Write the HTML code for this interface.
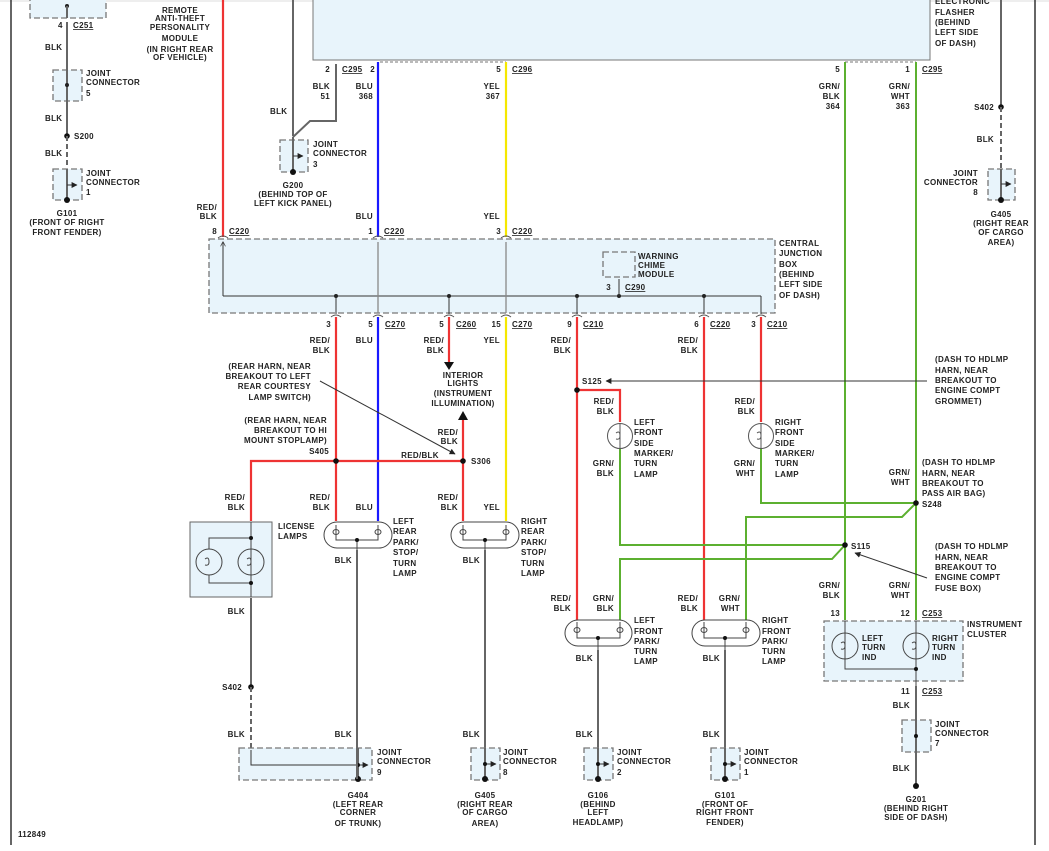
<!DOCTYPE html>
<html><head><meta charset="utf-8"><style>
html,body{margin:0;padding:0;background:#fff;}
svg{display:block;}
text{font-family:"Liberation Sans",sans-serif;font-size:8px;font-weight:bold;fill:#222;letter-spacing:0.3px;}
.m{text-anchor:middle}.e{text-anchor:end}
.u{text-decoration:underline}
.box{fill:#e8f4fb;stroke:#777;stroke-width:1.3;stroke-dasharray:6,3}
.g{stroke:#666;stroke-width:2;fill:none}
.k{stroke:#333;stroke-width:1;fill:none}
.c{stroke:#555;stroke-width:1;fill:none}
</style></head><body>
<svg width="1049" height="851" viewBox="0 0 1049 851" xmlns="http://www.w3.org/2000/svg">
<defs>
<marker id="ar" viewBox="0 0 10 10" refX="9" refY="5" markerWidth="6" markerHeight="6" orient="auto"><path d="M0,0 L10,5 L0,10z" fill="#222"/></marker>
<marker id="av" viewBox="0 0 10 10" refX="9" refY="5" markerWidth="5" markerHeight="5" orient="auto"><path d="M0,0 L10,5 L0,10" fill="none" stroke="#444" stroke-width="1.5"/></marker>
</defs>
<rect width="1049" height="851" fill="#fff"/>
<line x1="0" y1="1" x2="1049" y2="1" stroke="#ddd"/>
<line x1="11" y1="0" x2="11" y2="845" stroke="#333" stroke-width="1.5"/>
<line x1="1035" y1="0" x2="1035" y2="845" stroke="#333" stroke-width="1.5"/>

<rect x="313" y="-2" width="617" height="62" fill="#e8f4fb" stroke="#777"/>
<path d="M380,62 L506,62 M845,62 L916,62" stroke="#777" stroke-dasharray="3,2"/>
<text x="935" y="4">ELECTRONIC</text><text x="935" y="15">FLASHER</text><text x="935" y="25">(BEHIND</text><text x="935" y="35">LEFT SIDE</text><text x="935" y="46">OF DASH)</text>

<rect class="box" x="30" y="-2" width="76" height="20"/>
<circle cx="67" cy="6" r="2" fill="#222"/>
<line class="g" x1="67" y1="6" x2="67" y2="18"/>
<text x="58" y="28">4</text><text x="73" y="28" class="u">C251</text>
<rect class="box" x="53" y="70" width="29" height="31"/>
<line class="g" x1="67" y1="22" x2="67" y2="104"/>
<text x="45" y="50">BLK</text>
<circle cx="67" cy="85" r="2" fill="#222"/>
<text x="86" y="76">JOINT</text><text x="86" y="85">CONNECTOR</text><text x="86" y="96">5</text>
<text x="45" y="121">BLK</text>
<line class="g" x1="67" y1="104" x2="67" y2="136"/>
<circle cx="67" cy="136" r="2.8" fill="#111"/><text x="74" y="139">S200</text>
<line class="g" x1="67" y1="136" x2="67" y2="166" stroke-dasharray="5,3"/>
<text x="45" y="156">BLK</text>
<rect class="box" x="53" y="169" width="29" height="31"/>
<line class="g" x1="67" y1="169" x2="67" y2="200"/><line class="k" x1="67" y1="185" x2="77" y2="185" marker-end="url(#ar)"/>
<circle cx="67" cy="200" r="3" fill="#111"/>
<text x="86" y="176">JOINT</text><text x="86" y="185">CONNECTOR</text><text x="86" y="195">1</text>
<text x="67" y="216" class="m">G101</text><text x="67" y="225" class="m">(FRONT OF RIGHT</text><text x="67" y="235" class="m">FRONT FENDER)</text>

<text x="180" y="13" class="m">REMOTE</text><text x="180" y="21" class="m">ANTI-THEFT</text><text x="180" y="30" class="m">PERSONALITY</text><text x="180" y="41" class="m">MODULE</text><text x="180" y="52" class="m">(IN RIGHT REAR</text><text x="180" y="60" class="m">OF VEHICLE)</text>

<line x1="223" y1="0" x2="223" y2="237" stroke="#e33" stroke-width="2.2"/>
<text x="217" y="210" class="e">RED/</text><text x="217" y="219" class="e">BLK</text>
<text x="217" y="234" class="e">8</text><text x="229" y="234" class="u">C220</text>

<path class="g" d="M293,0 L293,136"/>
<path class="g" d="M336,64 L336,121 L310,121 L293,137"/>
<text x="270" y="114">BLK</text>
<text x="330" y="72" class="e">2</text><text x="342" y="72" class="u">C295</text>
<text x="330" y="89" class="e">BLK</text><text x="330" y="99" class="e">51</text>
<rect class="box" x="280" y="140" width="28" height="32"/>
<line class="g" x1="293" y1="137" x2="293" y2="172"/><line class="k" x1="293" y1="156" x2="303" y2="156" marker-end="url(#ar)"/>
<circle cx="293" cy="172" r="3" fill="#111"/>
<text x="313" y="147">JOINT</text><text x="313" y="156">CONNECTOR</text><text x="313" y="167">3</text>
<text x="293" y="188" class="m">G200</text><text x="293" y="197" class="m">(BEHIND TOP OF</text><text x="293" y="206" class="m">LEFT KICK PANEL)</text>

<line x1="378" y1="62" x2="378" y2="237" stroke="#1a1aff" stroke-width="2.2"/>
<text x="375" y="72" class="e">2</text>
<text x="373" y="89" class="e">BLU</text><text x="373" y="99" class="e">368</text>
<text x="373" y="219" class="e">BLU</text>
<text x="373" y="234" class="e">1</text><text x="384" y="234" class="u">C220</text>
<line x1="506" y1="62" x2="506" y2="237" stroke="#f5e800" stroke-width="2.2"/>
<text x="501" y="72" class="e">5</text><text x="512" y="72" class="u">C296</text>
<text x="500" y="89" class="e">YEL</text><text x="500" y="99" class="e">367</text>
<text x="500" y="219" class="e">YEL</text>
<text x="501" y="234" class="e">3</text><text x="512" y="234" class="u">C220</text>

<line x1="845" y1="62" x2="845" y2="620" stroke="#5cb030" stroke-width="2"/>
<line x1="916" y1="62" x2="916" y2="620" stroke="#5cb030" stroke-width="2"/>
<text x="840" y="72" class="e">5</text><text x="910" y="72" class="e">1</text><text x="922" y="72" class="u">C295</text>
<text x="840" y="89" class="e">GRN/</text><text x="840" y="99" class="e">BLK</text><text x="840" y="109" class="e">364</text>
<text x="910" y="89" class="e">GRN/</text><text x="910" y="99" class="e">WHT</text><text x="910" y="109" class="e">363</text>

<line class="g" x1="1001" y1="0" x2="1001" y2="107"/>
<circle cx="1001" cy="107" r="2.8" fill="#111"/><text x="994" y="110" class="e">S402</text>
<line class="g" x1="1001" y1="107" x2="1001" y2="168" stroke-dasharray="5,3"/>
<text x="994" y="142" class="e">BLK</text>
<rect class="box" x="988" y="169" width="27" height="31"/>
<line class="g" x1="1001" y1="169" x2="1001" y2="200"/><line class="k" x1="1001" y1="184" x2="1011" y2="184" marker-end="url(#ar)"/>
<circle cx="1001" cy="200" r="3" fill="#111"/>
<text x="978" y="176" class="e">JOINT</text><text x="978" y="185" class="e">CONNECTOR</text><text x="978" y="195" class="e">8</text>
<text x="1001" y="217" class="m">G405</text><text x="1001" y="226" class="m">(RIGHT REAR</text><text x="1001" y="235" class="m">OF CARGO</text><text x="1001" y="245" class="m">AREA)</text>

<rect class="box" x="209" y="239" width="566" height="74"/>
<text x="779" y="246">CENTRAL</text><text x="779" y="256">JUNCTION</text><text x="779" y="267">BOX</text><text x="779" y="277">(BEHIND</text><text x="779" y="287">LEFT SIDE</text><text x="779" y="298">OF DASH)</text>
<path class="k" d="M223,296 L223,242" marker-end="url(#av)"/>
<line class="k" x1="223" y1="296" x2="761" y2="296"/>
<path d="M378,242 L378,313 M506,242 L506,313" stroke="#888" stroke-width="1.3"/>
<g class="k"><path d="M336,296 V314 M449,296 V314 M577,296 V314 M704,296 V314 M761,296 V314"/></g>
<g fill="#222"><circle cx="336" cy="296" r="2"/><circle cx="449" cy="296" r="2"/><circle cx="577" cy="296" r="2"/><circle cx="704" cy="296" r="2"/><circle cx="619" cy="296" r="2"/></g>
<rect class="box" x="603" y="252" width="32" height="25"/>
<text x="638" y="259">WARNING</text><text x="638" y="268">CHIME</text><text x="638" y="277">MODULE</text>
<line class="k" x1="619" y1="279" x2="619" y2="296"/>
<text x="611" y="290" class="e">3</text><text x="625" y="290" class="u">C290</text>
<g fill="none" stroke="#555" stroke-width="1">
<path d="M218,238 q5,-4 10,0 M373,238 q5,-4 10,0 M501,238 q5,-4 10,0 M331,317 q5,-4 10,0 M373,317 q5,-4 10,0 M444,317 q5,-4 10,0 M501,317 q5,-4 10,0 M572,317 q5,-4 10,0 M699,317 q5,-4 10,0 M756,317 q5,-4 10,0"/>
</g>
<text x="331" y="327" class="e">3</text>
<text x="373" y="327" class="e">5</text><text x="385" y="327" class="u">C270</text>
<text x="444" y="327" class="e">5</text><text x="456" y="327" class="u">C260</text>
<text x="501" y="327" class="e">15</text><text x="512" y="327" class="u">C270</text>
<text x="572" y="327" class="e">9</text><text x="583" y="327" class="u">C210</text>
<text x="699" y="327" class="e">6</text><text x="710" y="327" class="u">C220</text>
<text x="756" y="327" class="e">3</text><text x="767" y="327" class="u">C210</text>

<line x1="336" y1="317" x2="336" y2="521" stroke="#e33" stroke-width="2.2"/>
<text x="330" y="343" class="e">RED/</text><text x="330" y="353" class="e">BLK</text>
<line x1="378" y1="317" x2="378" y2="521" stroke="#1a1aff" stroke-width="2.2"/>
<text x="373" y="343" class="e">BLU</text>
<line x1="449" y1="317" x2="449" y2="362" stroke="#e33" stroke-width="2.2"/>
<path d="M444,362 L454,362 L449,370z" fill="#111"/>
<text x="444" y="343" class="e">RED/</text><text x="444" y="353" class="e">BLK</text>
<text x="463" y="378" class="m">INTERIOR</text><text x="463" y="386" class="m">LIGHTS</text><text x="463" y="396" class="m">(INSTRUMENT</text><text x="463" y="406" class="m">ILLUMINATION)</text>
<path d="M458,420 L468,420 L463,411z" fill="#111"/>
<line x1="463" y1="420" x2="463" y2="521" stroke="#e33" stroke-width="2.2"/>
<text x="458" y="435" class="e">RED/</text><text x="458" y="444" class="e">BLK</text>
<line x1="506" y1="317" x2="506" y2="521" stroke="#f5e800" stroke-width="2.2"/>
<text x="500" y="343" class="e">YEL</text>
<path d="M577,317 L577,620 M577,390 L620,390 L620,422" stroke="#e33" stroke-width="2.2" fill="none"/>
<text x="571" y="343" class="e">RED/</text><text x="571" y="353" class="e">BLK</text>
<circle cx="577" cy="390" r="2.8" fill="#111"/><text x="582" y="384">S125</text>
<text x="614" y="404" class="e">RED/</text><text x="614" y="414" class="e">BLK</text>
<line x1="704" y1="317" x2="704" y2="620" stroke="#e33" stroke-width="2.2"/>
<text x="698" y="343" class="e">RED/</text><text x="698" y="353" class="e">BLK</text>
<line x1="761" y1="317" x2="761" y2="422" stroke="#e33" stroke-width="2.2"/>
<text x="755" y="404" class="e">RED/</text><text x="755" y="414" class="e">BLK</text>
<line class="k" x1="927" y1="381" x2="606" y2="381" marker-end="url(#ar)"/>
<text x="935" y="362">(DASH TO HDLMP</text><text x="935" y="373">HARN, NEAR</text><text x="935" y="383">BREAKOUT TO</text><text x="935" y="393">ENGINE COMPT</text><text x="935" y="404">GROMMET)</text>

<g fill="none" stroke="#555" stroke-width="1">
<circle cx="620" cy="436" r="12.5"/><circle cx="761" cy="436" r="12.5"/>
<path d="M620,424 v24 M616,433 q4,-3 4,3 q0,4 -4,3 M761,424 v24 M757,433 q4,-3 4,3 q0,4 -4,3"/>
</g>
<text x="634" y="425">LEFT</text><text x="634" y="435">FRONT</text><text x="634" y="446">SIDE</text><text x="634" y="456">MARKER/</text><text x="634" y="466">TURN</text><text x="634" y="477">LAMP</text>
<text x="775" y="425">RIGHT</text><text x="775" y="435">FRONT</text><text x="775" y="446">SIDE</text><text x="775" y="456">MARKER/</text><text x="775" y="466">TURN</text><text x="775" y="477">LAMP</text>
<text x="614" y="466" class="e">GRN/</text><text x="614" y="476" class="e">BLK</text>
<text x="755" y="466" class="e">GRN/</text><text x="755" y="476" class="e">WHT</text>
<g stroke="#5cb030" stroke-width="2" fill="none">
<path d="M620,449 L620,545 L845,545"/>
<path d="M761,449 L761,503 L916,503"/>
<path d="M916,503 L902,517 L746,517 L746,620"/>
<path d="M845,545 L832,559 L620,559 L620,620"/>
</g>
<circle cx="916" cy="503" r="2.8" fill="#111"/><text x="922" y="507">S248</text>
<circle cx="845" cy="545" r="2.8" fill="#111"/><text x="851" y="549">S115</text>
<text x="910" y="475" class="e">GRN/</text><text x="910" y="485" class="e">WHT</text>
<text x="922" y="465">(DASH TO HDLMP</text><text x="922" y="476">HARN, NEAR</text><text x="922" y="486">BREAKOUT TO</text><text x="922" y="496">PASS AIR BAG)</text>
<line class="k" x1="927" y1="578" x2="855" y2="553" marker-end="url(#ar)"/>
<text x="935" y="549">(DASH TO HDLMP</text><text x="935" y="560">HARN, NEAR</text><text x="935" y="570">BREAKOUT TO</text><text x="935" y="580">ENGINE COMPT</text><text x="935" y="591">FUSE BOX)</text>

<path d="M251,521 L251,461 L463,461" stroke="#e33" stroke-width="2.2" fill="none"/>
<circle cx="336" cy="461" r="2.8" fill="#111"/><circle cx="463" cy="461" r="2.8" fill="#111"/>
<text x="329" y="454" class="e">S405</text><text x="471" y="464">S306</text>
<text x="420" y="458" class="m">RED/BLK</text>
<text x="311" y="369" class="e">(REAR HARN, NEAR</text><text x="311" y="379" class="e">BREAKOUT TO LEFT</text><text x="311" y="389" class="e">REAR COURTESY</text><text x="311" y="400" class="e">LAMP SWITCH)</text>
<line class="k" x1="320" y1="381" x2="455" y2="454" stroke-width="0.8" marker-end="url(#ar)"/>
<text x="327" y="423" class="e">(REAR HARN, NEAR</text><text x="327" y="433" class="e">BREAKOUT TO HI</text><text x="327" y="443" class="e">MOUNT STOPLAMP)</text>
<text x="245" y="500" class="e">RED/</text><text x="245" y="510" class="e">BLK</text>
<text x="330" y="500" class="e">RED/</text><text x="330" y="510" class="e">BLK</text>
<text x="373" y="510" class="e">BLU</text>
<text x="458" y="500" class="e">RED/</text><text x="458" y="510" class="e">BLK</text>
<text x="500" y="510" class="e">YEL</text>

<rect x="190" y="522" width="82" height="75" fill="#e8f4fb" stroke="#666"/>
<g fill="none" stroke="#444" stroke-width="1">
<circle cx="209" cy="562" r="13"/><circle cx="251" cy="562" r="13"/>
<path d="M251,522 V597 M209,549 V538 H251 M209,575 V583 H251 M205,559 q4,-3 4,3 q0,4 -4,3 M247,559 q4,-3 4,3 q0,4 -4,3"/>
</g>
<circle cx="251" cy="538" r="2" fill="#111"/><circle cx="251" cy="583" r="2" fill="#111"/>
<text x="278" y="529">LICENSE</text><text x="278" y="539">LAMPS</text>
<text x="245" y="614" class="e">BLK</text>
<line class="g" x1="251" y1="598" x2="251" y2="687"/>
<circle cx="251" cy="687" r="2.8" fill="#111"/><text x="242" y="690" class="e">S402</text>
<line class="g" x1="251" y1="687" x2="251" y2="748" stroke-dasharray="5,3"/>
<text x="245" y="737" class="e">BLK</text>
<rect class="box" x="239" y="748" width="133" height="32"/>
<path class="k" d="M251,750 V765 H368" stroke-width="1.2" marker-end="url(#ar)"/>
<line class="g" x1="358" y1="748" x2="358" y2="779"/>
<circle cx="358" cy="765" r="2" fill="#111"/><circle cx="358" cy="779" r="3" fill="#111"/>
<text x="377" y="755">JOINT</text><text x="377" y="764">CONNECTOR</text><text x="377" y="775">9</text>
<text x="358" y="798" class="m">G404</text><text x="358" y="807" class="m">(LEFT REAR</text><text x="358" y="815" class="m">CORNER</text><text x="358" y="826" class="m">OF TRUNK)</text>

<g fill="none" stroke="#444" stroke-width="1">
<rect x="324" y="522" width="68" height="26" rx="13"/>
<rect x="451" y="522" width="68" height="26" rx="13"/>
<path d="M336,525 V540 H378 V525 M357,540 V550 M463,525 V540 H506 V525 M485,540 V550"/>
<ellipse cx="336" cy="532" rx="3" ry="2.5"/><ellipse cx="378" cy="532" rx="3" ry="2.5"/>
<ellipse cx="463" cy="532" rx="3" ry="2.5"/><ellipse cx="506" cy="532" rx="3" ry="2.5"/>
</g>
<circle cx="357" cy="540" r="2" fill="#111"/><circle cx="485" cy="540" r="2" fill="#111"/>
<text x="393" y="524">LEFT</text><text x="393" y="534">REAR</text><text x="393" y="545">PARK/</text><text x="393" y="555">STOP/</text><text x="393" y="566">TURN</text><text x="393" y="576">LAMP</text>
<text x="521" y="524">RIGHT</text><text x="521" y="534">REAR</text><text x="521" y="545">PARK/</text><text x="521" y="555">STOP/</text><text x="521" y="566">TURN</text><text x="521" y="576">LAMP</text>
<line class="g" x1="357" y1="550" x2="357" y2="779"/>
<text x="352" y="563" class="e">BLK</text><text x="352" y="737" class="e">BLK</text>
<line class="g" x1="485" y1="550" x2="485" y2="779"/>
<text x="480" y="563" class="e">BLK</text><text x="480" y="737" class="e">BLK</text>
<rect class="box" x="471" y="748" width="29" height="32"/>
<line class="g" x1="485" y1="748" x2="485" y2="779"/>
<line class="k" x1="485" y1="764" x2="496" y2="764" marker-end="url(#ar)"/>
<circle cx="485" cy="764" r="2" fill="#111"/><circle cx="485" cy="779" r="3" fill="#111"/>
<text x="503" y="755">JOINT</text><text x="503" y="764">CONNECTOR</text><text x="503" y="775">8</text>
<text x="485" y="798" class="m">G405</text><text x="485" y="807" class="m">(RIGHT REAR</text><text x="485" y="815" class="m">OF CARGO</text><text x="485" y="826" class="m">AREA)</text>

<g fill="none" stroke="#444" stroke-width="1">
<rect x="565" y="620" width="67" height="26" rx="13"/>
<rect x="692" y="620" width="68" height="26" rx="13"/>
<path d="M577,622 V638 H620 V622 M598,638 V650 M704,622 V638 H746 V622 M725,638 V650"/>
<ellipse cx="577" cy="630" rx="3" ry="2.5"/><ellipse cx="620" cy="630" rx="3" ry="2.5"/>
<ellipse cx="704" cy="630" rx="3" ry="2.5"/><ellipse cx="746" cy="630" rx="3" ry="2.5"/>
</g>
<circle cx="598" cy="638" r="2" fill="#111"/><circle cx="725" cy="638" r="2" fill="#111"/>
<text x="571" y="601" class="e">RED/</text><text x="571" y="611" class="e">BLK</text>
<text x="614" y="601" class="e">GRN/</text><text x="614" y="611" class="e">BLK</text>
<text x="698" y="601" class="e">RED/</text><text x="698" y="611" class="e">BLK</text>
<text x="740" y="601" class="e">GRN/</text><text x="740" y="611" class="e">WHT</text>
<text x="634" y="623">LEFT</text><text x="634" y="634">FRONT</text><text x="634" y="644">PARK/</text><text x="634" y="654">TURN</text><text x="634" y="664">LAMP</text>
<text x="762" y="623">RIGHT</text><text x="762" y="634">FRONT</text><text x="762" y="644">PARK/</text><text x="762" y="654">TURN</text><text x="762" y="664">LAMP</text>
<line class="g" x1="598" y1="650" x2="598" y2="779"/>
<text x="593" y="661" class="e">BLK</text><text x="593" y="737" class="e">BLK</text>
<rect class="box" x="584" y="748" width="29" height="32"/>
<line class="g" x1="598" y1="748" x2="598" y2="779"/>
<line class="k" x1="598" y1="764" x2="609" y2="764" marker-end="url(#ar)"/>
<circle cx="598" cy="764" r="2" fill="#111"/><circle cx="598" cy="779" r="3" fill="#111"/>
<text x="617" y="755">JOINT</text><text x="617" y="764">CONNECTOR</text><text x="617" y="775">2</text>
<text x="598" y="798" class="m">G106</text><text x="598" y="807" class="m">(BEHIND</text><text x="598" y="815" class="m">LEFT</text><text x="598" y="825" class="m">HEADLAMP)</text>
<line class="g" x1="725" y1="650" x2="725" y2="779"/>
<text x="720" y="661" class="e">BLK</text><text x="720" y="737" class="e">BLK</text>
<rect class="box" x="711" y="748" width="29" height="32"/>
<line class="g" x1="725" y1="748" x2="725" y2="779"/>
<line class="k" x1="725" y1="764" x2="736" y2="764" marker-end="url(#ar)"/>
<circle cx="725" cy="764" r="2" fill="#111"/><circle cx="725" cy="779" r="3" fill="#111"/>
<text x="744" y="755">JOINT</text><text x="744" y="764">CONNECTOR</text><text x="744" y="775">1</text>
<text x="725" y="798" class="m">G101</text><text x="725" y="807" class="m">(FRONT OF</text><text x="725" y="815" class="m">RIGHT FRONT</text><text x="725" y="825" class="m">FENDER)</text>

<text x="840" y="588" class="e">GRN/</text><text x="840" y="598" class="e">BLK</text>
<text x="910" y="588" class="e">GRN/</text><text x="910" y="598" class="e">WHT</text>
<text x="840" y="616" class="e">13</text><text x="910" y="616" class="e">12</text><text x="922" y="616" class="u">C253</text>
<rect class="box" x="824" y="621" width="139" height="60"/>
<g fill="none" stroke="#444" stroke-width="1">
<circle cx="845" cy="646" r="13"/><circle cx="916" cy="646" r="13"/>
<path d="M845,621 V669 H916 M916,621 V686 M841,643 q4,-3 4,3 q0,4 -4,3 M912,643 q4,-3 4,3 q0,4 -4,3"/>
</g>
<circle cx="916" cy="669" r="2" fill="#111"/>
<text x="862" y="641">LEFT</text><text x="862" y="650">TURN</text><text x="862" y="660">IND</text>
<text x="932" y="641">RIGHT</text><text x="932" y="650">TURN</text><text x="932" y="660">IND</text>
<text x="967" y="627">INSTRUMENT</text><text x="967" y="637">CLUSTER</text>
<text x="910" y="694" class="e">11</text><text x="922" y="694" class="u">C253</text>
<rect class="box" x="902" y="720" width="29" height="32"/>
<line class="g" x1="916" y1="686" x2="916" y2="786"/>
<text x="910" y="708" class="e">BLK</text>
<circle cx="916" cy="736" r="2" fill="#111"/>
<text x="935" y="727">JOINT</text><text x="935" y="736">CONNECTOR</text><text x="935" y="746">7</text>
<text x="910" y="771" class="e">BLK</text>
<circle cx="916" cy="786" r="3" fill="#111"/>
<text x="916" y="802" class="m">G201</text><text x="916" y="811" class="m">(BEHIND RIGHT</text><text x="916" y="820" class="m">SIDE OF DASH)</text>

<text x="18" y="837">112849</text>
</svg>
</body></html>
